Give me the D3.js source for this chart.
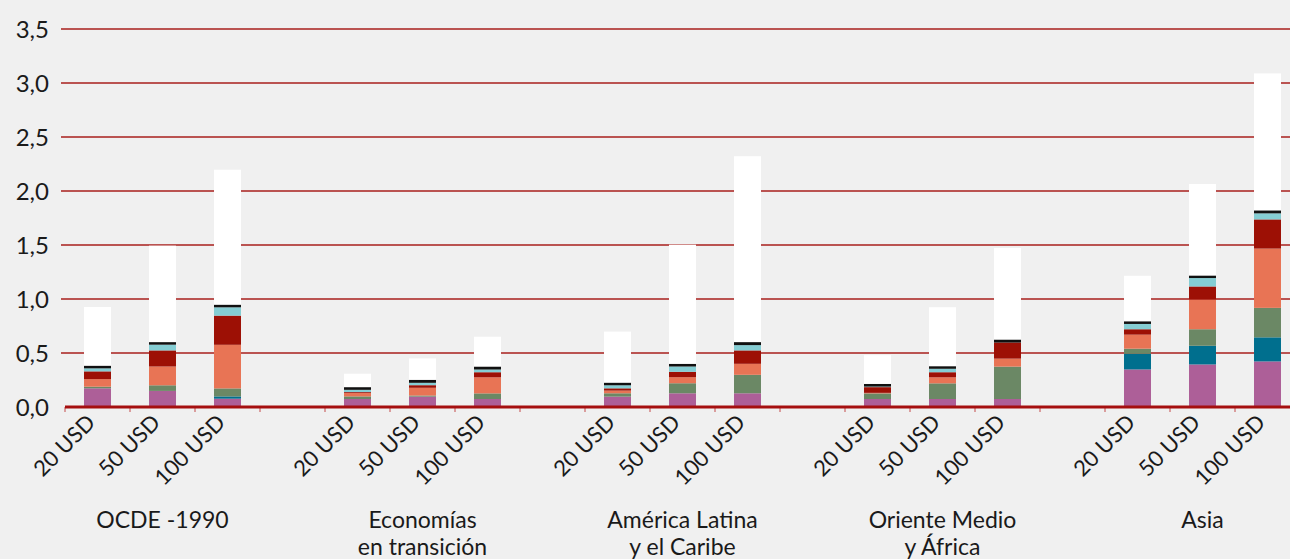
<!DOCTYPE html>
<html>
<head>
<meta charset="utf-8">
<script src="https://cdn.jsdelivr.net/npm/d3@7"></script>
<style>
  body { margin: 0; background: #f0f0f0; }
  svg { display: block; font-family: "Lato", "Open Sans", sans-serif; }
</style>
</head>
<body>
<svg width="1290" height="559"></svg>
<script>
// regions (group labels, split in lines) and oil price scenarios
var regions = [["OCDE -1990"], ["Economías", "en transición"], ["América Latina", "y el Caribe"], ["Oriente Medio", "y África"], ["Asia"]];
var prices = ["20 USD", "50 USD", "100 USD"];
var yTicks = [0, 0.5, 1, 1.5, 2, 2.5, 3, 3.5];

// stacked components, bottom to top, 3 values per region
var sPurple = [0.173, 0.149, 0.077, 0.074, 0.096, 0.074, 0.096, 0.127, 0.127, 0.074, 0.074, 0.074, 0.348, 0.394, 0.422];
var sTeal   = [0, 0, 0.021, 0, 0, 0, 0, 0, 0, 0, 0, 0, 0.145, 0.173, 0.223];
var sGreen  = [0.015, 0.052, 0.074, 0.024, 0.010, 0.052, 0.031, 0.093, 0.171, 0.052, 0.145, 0.300, 0.047, 0.153, 0.273];
var sOrange = [0.070, 0.174, 0.404, 0.032, 0.072, 0.149, 0.025, 0.056, 0.102, 0.005, 0.056, 0.074, 0.130, 0.275, 0.549];
var sRed    = [0.072, 0.149, 0.270, 0.008, 0.024, 0.047, 0.021, 0.050, 0.124, 0.053, 0.047, 0.149, 0.050, 0.121, 0.270];
var sCyan   = [0.028, 0.053, 0.077, 0.021, 0.022, 0.025, 0.028, 0.049, 0.049, 0.005, 0.032, 0, 0.049, 0.078, 0.056];
var sBlack  = [0.025, 0.024, 0.025, 0.025, 0.028, 0.028, 0.025, 0.025, 0.028, 0.025, 0.024, 0.028, 0.025, 0.024, 0.028];
var sWhite  = [0.543, 0.893, 1.249, 0.124, 0.198, 0.276, 0.472, 1.103, 1.721, 0.266, 0.546, 0.847, 0.421, 0.847, 1.268];

var series = [sPurple, sTeal, sGreen, sOrange, sRed, sCyan, sBlack, sWhite];
var colors = ["#ad5f98", "#006f8e", "#6b8865", "#e87455", "#9d1005", "#85cdd3", "#111111", "#ffffff"];

var svg = d3.select("svg");

// one slot per bar plus an empty slot between regions
var slots = d3.range(regions.length * 4 - 1).map(String);
function slotOf(i) { return String(Math.floor(i / 3) * 4 + i % 3); }

var x = d3.scaleBand()
    .domain(slots)
    .range([65, 1300])
    .paddingInner(0.585)
    .paddingOuter(0.2925);

var y = d3.scaleLinear()
    .domain([0, 3.5])
    .range([407, 29]);

var rows = sPurple.map(function(d, i) {
  var r = {slot: slotOf(i)};
  series.forEach(function(s, k) { r["k" + k] = s[i]; });
  return r;
});
var keys = series.map(function(s, k) { return "k" + k; });
var stacked = d3.stack().keys(keys)(rows);

// gridlines
svg.append("g").selectAll("line")
  .data(yTicks.slice(1))
  .enter().append("line")
    .attr("x1", 61).attr("x2", 1290)
    .attr("y1", function(d) { return y(d); })
    .attr("y2", function(d) { return y(d); })
    .attr("stroke", "#a81f1c")
    .attr("stroke-width", 1.3);

// y labels
svg.append("g").selectAll("text")
  .data(yTicks)
  .enter().append("text")
    .attr("x", 49)
    .attr("y", function(d) { return y(d); })
    .attr("dy", "0.36em")
    .attr("text-anchor", "end")
    .attr("font-size", 24)
    .attr("fill", "#1a1a1a")
    .text(function(d) { return d3.format(".1f")(d).replace(".", ","); });

// bars
svg.append("g").selectAll("g")
  .data(stacked)
  .enter().append("g")
    .attr("fill", function(d, k) { return colors[k]; })
  .selectAll("rect")
  .data(function(d) { return d; })
  .enter().append("rect")
    .attr("x", function(d) { return x(d.data.slot); })
    .attr("width", x.bandwidth())
    .attr("y", function(d) { return y(d[1]); })
    .attr("height", function(d) { return y(d[0]) - y(d[1]); });

// x axis line and tick marks at slot boundaries
var axis = svg.append("g");
axis.selectAll("line.tk")
  .data(slots)
  .enter().append("line")
    .attr("class", "tk")
    .attr("x1", function(d) { return x(d) - x.step() * x.paddingOuter(); })
    .attr("x2", function(d) { return x(d) - x.step() * x.paddingOuter(); })
    .attr("y1", 407).attr("y2", 412)
    .attr("stroke", "#c44a4a")
    .attr("stroke-width", 1);
axis.append("line")
  .attr("x1", 65).attr("x2", 1290)
  .attr("y1", 407).attr("y2", 407)
  .attr("stroke", "#a50f0f")
  .attr("stroke-width", 3);

// price labels
svg.append("g").selectAll("text")
  .data(rows)
  .enter().append("text")
    .attr("transform", function(d) {
      return "translate(" + (x(d.slot) + x.bandwidth() / 2 - 1) + ",424) rotate(-45)";
    })
    .attr("text-anchor", "end")
    .attr("font-size", 22)
    .attr("fill", "#1a1a1a")
    .text(function(d, i) { return prices[i % 3]; });

// region labels
var rl = svg.append("g").selectAll("text")
  .data(regions)
  .enter().append("text")
    .attr("x", function(d, i) { return x(String(i * 4 + 1)) + x.bandwidth() / 2; })
    .attr("y", 528)
    .attr("text-anchor", "middle")
    .attr("font-size", 23)
    .attr("fill", "#1a1a1a");
rl.selectAll("tspan")
  .data(function(d) { return d; })
  .enter().append("tspan")
    .attr("x", function() { return d3.select(this.parentNode).attr("x"); })
    .attr("dy", function(d, j) { return j ? 27 : 0; })
    .text(function(d) { return d; });
</script>
</body>
</html>
